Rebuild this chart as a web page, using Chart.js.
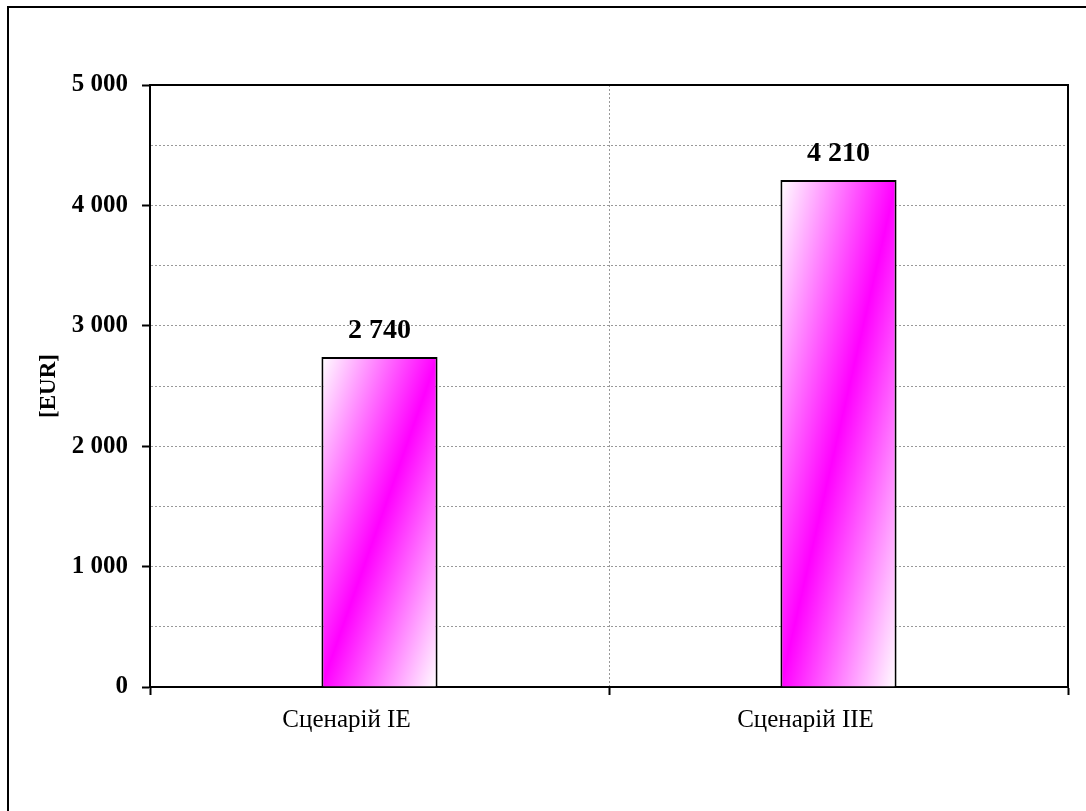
<!DOCTYPE html>
<html lang="uk">
<head>
<meta charset="utf-8">
<title>Сценарії — витрати [EUR]</title>
<script src="https://cdn.jsdelivr.net/npm/chart.js@4/dist/chart.umd.min.js"></script>
<style>
  html, body { margin: 0; padding: 0; background: #fff; }
  #wrap { position: relative; width: 1086px; height: 811px; }
</style>
</head>
<body>
<div id="wrap"><canvas id="chart"></canvas></div>
<script>
// Дані графіка: два сценарії, витрати в EUR.
const categories = ['Сценарій IE', 'Сценарій IIE'];
const costs = [2740, 4210];
const yMajorTicks = [0, 1000, 2000, 3000, 4000, 5000];
const yMinorStep = 500;
const yTitle = '[EUR]';

const SERIF = "'Liberation Serif', 'Times New Roman', serif";
const BAR_FRACTION = 0.253;

// ====== UTIL ======

function fmtThousands(v) {
  return String(v).replace(/\B(?=(\d{3})+(?!\d))/g, ' ');
}

// Діагональний градієнт: білий у лівому верхньому куті, пурпуровий по діагоналі, білий у правому нижньому.
function barGradient(ctx) {
  const chart = ctx.chart;
  const { x, y } = chart.scales;
  if (!chart.chartArea || !x || !y) return '#ff00ff';
  const w = (x.width / categories.length) * BAR_FRACTION;
  const cx = x.getPixelForValue(ctx.dataIndex);
  const top = y.getPixelForValue(ctx.raw);
  const bottom = y.getPixelForValue(0);
  const h = bottom - top;
  const cy = (top + bottom) / 2;
  const len = Math.hypot(h, w) || 1;
  const nx = h / len, ny = w / len;
  const k = (h * w) / len;
  const g = chart.ctx.createLinearGradient(cx - nx * k, cy - ny * k, cx + nx * k, cy + ny * k);
  g.addColorStop(0, '#ffffff');
  g.addColorStop(0.5, '#ff00ff');
  g.addColorStop(1, '#ffffff');
  return g;
}

// ====== PLUGINS ======

// Рамка діаграми та рамка області побудови
const framePlugin = {
  id: 'frame',
  beforeDraw(chart) {
    const c = chart.ctx;
    c.save();
    c.strokeStyle = '#000';
    c.lineWidth = 2;
    c.strokeRect(8, 7, chart.width + 20, chart.height + 20);
    c.restore();
  },
  afterDatasetsDraw(chart) {
    const { left, top, right, bottom } = chart.chartArea;
    const c = chart.ctx;
    c.save();
    c.strokeStyle = '#000';
    c.lineWidth = 2;
    c.beginPath();
    c.moveTo(left, top);
    c.lineTo(right, top);
    c.lineTo(right, bottom);
    c.stroke();
    c.restore();
  }
};

// Підписи значень над стовпчиками
const valueLabels = {
  id: 'valueLabels',
  afterDatasetsDraw(chart) {
    const c = chart.ctx;
    const meta = chart.getDatasetMeta(0);
    c.save();
    c.font = `bold 28px ${SERIF}`;
    c.fillStyle = '#000';
    c.textAlign = 'center';
    c.textBaseline = 'alphabetic';
    meta.data.forEach((bar, i) => {
      c.fillText(fmtThousands(costs[i]), bar.x, bar.y - 19);
    });
    c.restore();
  }
};

// ====== CHART ======

new Chart(document.getElementById('chart'), {
  type: 'bar',
  data: {
    labels: categories,
    datasets: [{
      data: costs,
      backgroundColor: barGradient,
      borderColor: '#000',
      borderWidth: 2,
      categoryPercentage: 1,
      barPercentage: BAR_FRACTION,
    }]
  },
  options: {
    responsive: true,
    maintainAspectRatio: false,
    animation: false,
    layout: { padding: { top: 85, right: 18, left: 0, bottom: 0 } },
    plugins: {
      legend: { display: false },
      tooltip: { enabled: false },
    },
    scales: {
      x: {
        afterFit: (s) => { s.height = 124; },
        grid: {
          color: '#999',
          lineWidth: 1,
          tickColor: '#000',
          tickWidth: 2,
          tickLength: 8,
          tickBorderDash: [],
        },
        border: { color: '#000', width: 2, dash: [2, 2] },
        ticks: {
          color: '#000',
          font: { family: SERIF, size: 25 },
          padding: 10,
          labelOffset: -33,
          maxRotation: 0,
        }
      },
      y: {
        min: yMajorTicks[0],
        max: yMajorTicks[yMajorTicks.length - 1],
        afterFit: (s) => { s.width = 150; },
        grid: {
          color: '#999',
          lineWidth: 1,
          tickColor: (ctx) => yMajorTicks.includes(ctx.tick?.value) ? '#000' : 'rgba(0,0,0,0)',
          tickWidth: 2,
          tickLength: 8,
          tickBorderDash: [],
        },
        border: { color: '#000', width: 2, dash: [2, 2] },
        ticks: {
          stepSize: yMinorStep,
          color: '#000',
          font: { family: SERIF, size: 25, weight: 'bold' },
          padding: 14,
          callback: (v) => yMajorTicks.includes(v) ? fmtThousands(v) : '',
        },
        title: {
          display: true,
          text: yTitle,
          color: '#000',
          font: { family: SERIF, size: 23, weight: 'bold' },
          padding: { top: 35, bottom: 0 },
        }
      }
    }
  },
  plugins: [framePlugin, valueLabels]
});
</script>
</body>
</html>
